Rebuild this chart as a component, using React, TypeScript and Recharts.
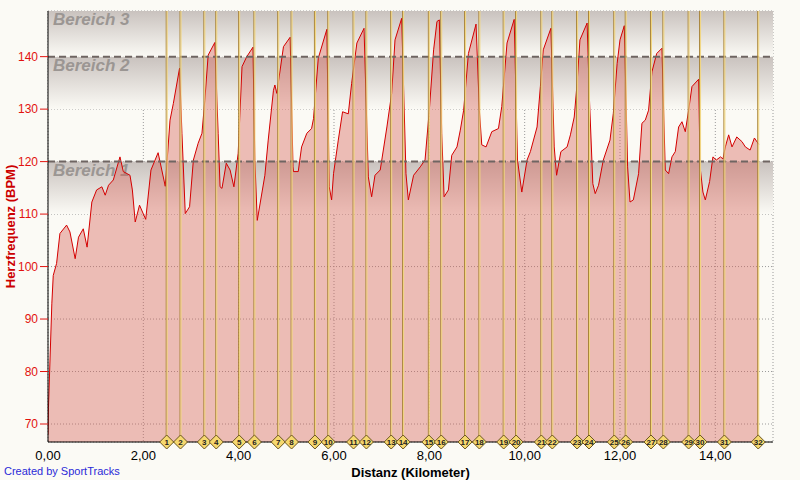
import {
  Area, CartesianGrid, ComposedChart, ReferenceArea, ReferenceDot, ReferenceLine, XAxis, YAxis,
} from "recharts";

// Distanz in km und Herzfrequenz in BPM
const distKm = [
  0.0, 0.01, 0.08, 0.11, 0.18, 0.25, 0.39, 0.46, 0.57, 0.64, 0.74, 0.82, 0.92, 1.02, 1.13, 1.2, 1.27, 1.37,
  1.51, 1.58, 1.72, 1.77, 1.83, 1.92, 2.05, 2.16, 2.31, 2.46, 2.56, 2.63, 2.76, 2.81, 2.88, 2.97, 3.05, 3.15,
  3.23, 3.29, 3.36, 3.5, 3.57, 3.61, 3.65, 3.74, 3.82, 3.9, 3.99, 4.07, 4.17, 4.3, 4.34, 4.39, 4.55, 4.62,
  4.73, 4.76, 4.8, 4.94, 5.08, 5.14, 5.15, 5.25, 5.32, 5.43, 5.53, 5.57, 5.67, 5.85, 5.9, 5.95, 5.99, 6.09,
  6.18, 6.3, 6.37, 6.48, 6.63, 6.72, 6.79, 6.86, 6.97, 7.11, 7.21, 7.28, 7.42, 7.51, 7.56, 7.67, 7.81, 7.91,
  8.0, 8.09, 8.16, 8.21, 8.26, 8.31, 8.4, 8.47, 8.58, 8.65, 8.72, 8.82, 8.98, 9.05, 9.1, 9.19, 9.31, 9.45,
  9.52, 9.63, 9.78, 9.85, 9.94, 10.05, 10.12, 10.26, 10.33, 10.39, 10.55, 10.62, 10.67, 10.76, 10.89, 10.96,
  11.04, 11.1, 11.16, 11.31, 11.36, 11.43, 11.48, 11.55, 11.65, 11.79, 11.86, 11.94, 12.0, 12.09, 12.16,
  12.21, 12.28, 12.39, 12.46, 12.53, 12.6, 12.67, 12.77, 12.88, 12.95, 13.02, 13.09, 13.16, 13.23, 13.3,
  13.37, 13.44, 13.51, 13.65, 13.68, 13.74, 13.79, 13.88, 13.95, 14.02, 14.11, 14.16, 14.21, 14.28, 14.35,
  14.45, 14.56, 14.63, 14.73, 14.82, 14.91,
];
const heartRate = [
  68, 73.2, 92.9, 98.3, 100.6, 106.3, 107.9, 106.6, 101.5, 105.6, 107.2, 103.7, 112.3, 114.6, 115.2, 113.6,
  115.5, 116.5, 120.9, 118.1, 117.4, 114.6, 108.5, 111.7, 109.0, 118.4, 121.7, 115.3, 127.9, 131.1, 137.8,
  125.4, 110.1, 111.4, 120.3, 123.5, 125.4, 131.7, 140.3, 142.7, 125.4, 115.2, 114.9, 119.7, 118.4, 115.2,
  121.6, 138.1, 140.0, 141.8, 120.3, 108.8, 117.4, 124.1, 133.6, 134.6, 133.0, 141.9, 143.7, 119.0, 118.1,
  118.1, 122.8, 125.4, 126.3, 128.2, 139.7, 145.2, 115.2, 112.7, 117.7, 124.1, 129.5, 129.1, 134.9, 142.6,
  145.4, 117.1, 113.3, 117.4, 118.4, 126.6, 133.0, 143.2, 147.3, 117.7, 112.7, 117.4, 119.0, 120.3, 129.8,
  141.3, 146.7, 147.0, 125.4, 113.3, 114.6, 121.2, 122.8, 126.0, 129.8, 140.6, 146.2, 129.8, 123.2, 122.8,
  125.7, 126.3, 130.5, 142.6, 147.1, 120.3, 114.2, 120.3, 121.9, 126.6, 134.3, 141.3, 145.4, 122.8, 117.4,
  121.9, 122.8, 125.1, 128.5, 134.9, 143.2, 146.4, 131.7, 115.8, 113.9, 115.5, 120.3, 124.1, 129.2, 138.7,
  143.2, 145.9, 119.0, 112.3, 112.7, 117.7, 127.3, 127.9, 129.8, 137.1, 140.6, 141.6, 118.4, 117.7, 120.9,
  121.9, 126.6, 127.6, 125.7, 129.8, 134.3, 135.7, 119.0, 114.2, 112.7, 116.2, 120.9, 120.3, 120.9, 120.5,
  122.8, 125.1, 122.8, 124.7, 123.8, 122.8, 122.2, 124.5, 123.3,
];
// Rundenmarken
const lapKm = [
  2.49, 2.78, 3.28, 3.53, 4.01, 4.33, 4.83, 5.11, 5.6, 5.88, 6.41, 6.68, 7.2, 7.45, 7.99, 8.25, 8.75, 9.05,
  9.56, 9.82, 10.35, 10.58, 11.1, 11.35, 11.88, 12.12, 12.65, 12.91, 13.44, 13.68, 14.19, 14.9,
];
const xTicks = [0, 2, 4, 6, 8, 10, 12, 14];
const yTicks = [70, 80, 90, 100, 110, 120, 130, 140];
const zoneLimits = [120, 140];
const X_MAX = 15.21;
const Y_MIN = 66.57;
const Y_MAX = 148.7;

const data = distKm.map((km, i) => ({ km, bpm: heartRate[i] }));

const bg = "#fbfaf5";
const tickFont = "'Liberation Sans', Arial, sans-serif";

const zoneBands = [
  { name: "Bereich 1", y1: 110, y2: 120 },
  { name: "Bereich 2", y1: 130, y2: 140 },
  { name: "Bereich 3", y1: 140, y2: Y_MAX },
];

function ZoneLabel({ viewBox, name }: any) {
  return (
    <text
      x={viewBox.x + 5}
      y={viewBox.y + 14}
      fill="#9b9693"
      fontSize={17}
      fontWeight="bold"
      fontStyle="italic"
      fontFamily={tickFont}
    >
      {name}
    </text>
  );
}

function LapLine(props: any) {
  const { x1, y1, y2 } = props;
  return (
    <g>
      <line x1={x1 - 0.5} x2={x1 - 0.5} y1={y1} y2={y2} stroke="#a8843a" strokeWidth={1} />
      <line x1={x1 + 0.5} x2={x1 + 0.5} y1={y1} y2={y2} stroke="#f2d67e" strokeWidth={1} />
    </g>
  );
}

function LapDiamond({ cx, cy, n }: any) {
  const s = 7;
  return (
    <g>
      <polygon
        points={`${cx},${cy - s} ${cx + s},${cy} ${cx},${cy + s} ${cx - s},${cy}`}
        fill="#f6d86e"
        stroke="#6a5520"
        strokeWidth={1}
      />
      <text x={cx} y={cy + 3} textAnchor="middle" fontSize={8} fontWeight="bold" fontFamily={tickFont} fill="#222">
        {n}
      </text>
    </g>
  );
}

export default function App() {
  return (
    <div style={{ position: "fixed", left: 0, top: 0, width: 800, height: 480, background: bg }}>
      <ComposedChart width={800} height={480} data={data} margin={{ top: 11, right: 27, bottom: 0, left: 0 }}>
        <defs>
          <linearGradient id="zoneFade" x1="0" y1="0" x2="0" y2="1">
            <stop offset="0%" stopColor="#c9c2be" />
            <stop offset="100%" stopColor={bg} />
          </linearGradient>
        </defs>
        {zoneBands.map((z) => (
          <ReferenceArea
            key={z.name}
            y1={z.y1}
            y2={z.y2}
            fill="url(#zoneFade)"
            fillOpacity={1}
            stroke="none"
            ifOverflow="hidden"
            zIndex={-50}
            label={<ZoneLabel name={z.name} />}
          />
        ))}
        <CartesianGrid stroke="#9a9a9a" strokeDasharray="1 2" vertical horizontal />
        <XAxis
          dataKey="km"
          type="number"
          domain={[0, X_MAX]}
          ticks={xTicks}
          allowDataOverflow
          height={38}
          tickFormatter={(v: number) => v.toFixed(2).replace(".", ",")}
          tick={{ fill: "#000", fontSize: 13, fontFamily: tickFont }}
          tickLine={false}
          axisLine={{ stroke: "#000" }}
          tickMargin={3}
          label={{
            value: "Distanz (Kilometer)",
            position: "insideBottom",
            offset: 3,
            fill: "#000",
            fontSize: 13,
            fontWeight: "bold",
            fontFamily: tickFont,
          }}
        />
        <YAxis
          type="number"
          domain={[Y_MIN, Y_MAX]}
          ticks={yTicks}
          allowDataOverflow
          width={48}
          tick={{ fill: "#e2120e", fontSize: 12, fontFamily: tickFont }}
          tickLine={{ stroke: "#e2120e" }}
          tickSize={8}
          tickMargin={2}
          axisLine={{ stroke: "#000" }}
          label={{
            value: "Herzfrequenz (BPM)",
            angle: -90,
            position: "insideLeft",
            offset: 10,
            fill: "#cc0000",
            fontSize: 13,
            fontWeight: "bold",
            fontFamily: tickFont,
            style: { textAnchor: "middle" },
          }}
        />
        <Area
          dataKey="bpm"
          type="linear"
          stroke="#d40000"
          strokeWidth={1}
          fill="rgb(215,95,85)"
          fillOpacity={0.4}
          isAnimationActive={false}
          dot={false}
          activeDot={false}
        />
        {zoneLimits.map((v) => (
          <ReferenceLine key={v} y={v} stroke="#6f6562" strokeWidth={2} strokeDasharray="7 4" />
        ))}
        {lapKm.map((km, i) => (
          <ReferenceLine key={"l" + i} x={km} shape={<LapLine />} />
        ))}
        {lapKm.map((km, i) => (
          <ReferenceDot key={"d" + i} x={km} y={Y_MIN} ifOverflow="visible" shape={<LapDiamond n={i + 1} />} />
        ))}
      </ComposedChart>
      <div
        style={{
          position: "absolute",
          left: 4,
          top: 465,
          fontSize: 11,
          fontFamily: tickFont,
          color: "#2a2ad8",
        }}
      >
        Created by SportTracks
      </div>
    </div>
  );
}
